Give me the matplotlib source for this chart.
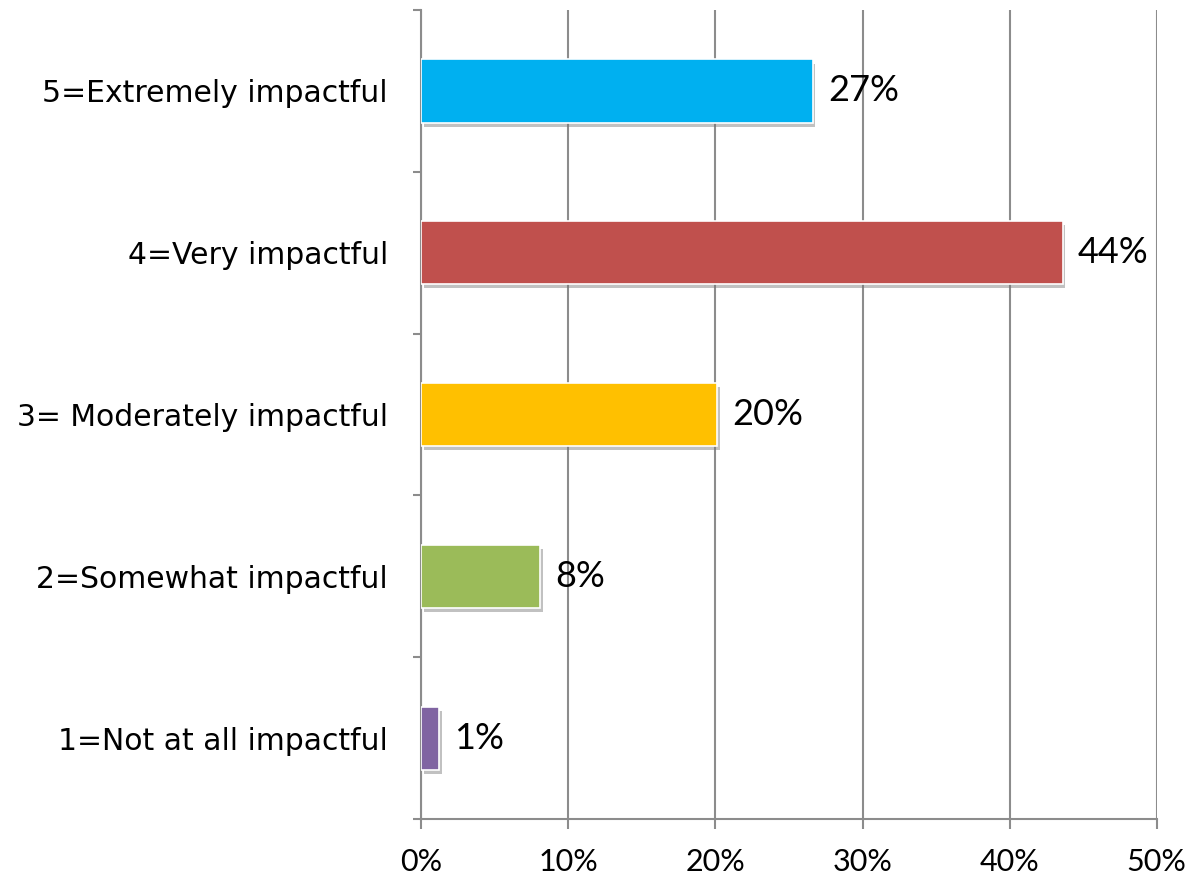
import matplotlib
matplotlib.use("Agg")
import matplotlib.pyplot as plt
import matplotlib.patheffects as pe
import numpy as np

# Data for plotting (top to bottom)
categories = ["5=Extremely impactful", "4=Very impactful", "3= Moderately impactful",
              "2=Somewhat impactful", "1=Not at all impactful"]
values = [26.6, 43.6, 20.1, 8.1, 1.2]
labels = ["27%", "44%", "20%", "8%", "1%"]
colors = ["#00B0F0", "#C0504D", "#FFC000", "#9BBB59", "#8064A2"]
xticks = [0, 10, 20, 30, 40, 50]

plt.rcParams['font.family'] = ['Lato', 'DejaVu Sans']
grey = "#8c8c8c"

fig = plt.figure(figsize=(11.9, 8.75), dpi=100)
ax = fig.add_axes([0.354, 0.064, 0.618, 0.9245])

n = len(categories)
ypos = np.arange(n)[::-1] + 0.5
shadow = [pe.SimplePatchShadow(offset=(2, -3), shadow_rgbFace="#777777", alpha=0.45), pe.Normal()]
bars = ax.barh(ypos, values, height=0.39, color=colors, edgecolor="white", linewidth=1.2, zorder=3)
for b in bars:
    b.set_path_effects(shadow)

for y, v, lab in zip(ypos, values, labels):
    ax.annotate(lab, (v, y), xytext=(11, 0), textcoords="offset points",
                va="center", ha="left", fontsize=26, zorder=4)

ax.set_xlim(0, 50)
ax.set_ylim(0, n)
ax.set_xticks(xticks)
ax.set_xticklabels([f"{t}%" for t in xticks], fontsize=22)
ax.set_yticks(np.arange(n + 1))
ax.set_yticklabels([])
ax.set_yticks(ypos, minor=True)
ax.set_yticklabels(categories, minor=True, fontsize=21.5, family=['DejaVu Sans'])

ax.tick_params(axis="y", which="major", length=6, width=1.5, color=grey)
ax.tick_params(axis="y", which="minor", length=0, pad=24)
ax.tick_params(axis="x", length=7, width=1.5, color=grey, pad=14)

ax.grid(axis="x", color=grey, linewidth=1.5, zorder=0)
for s in ["top", "right"]:
    ax.spines[s].set_visible(False)
for s in ["left", "bottom"]:
    ax.spines[s].set_color(grey)
    ax.spines[s].set_linewidth(1.5)

fig.savefig("out.png", dpi=100)
